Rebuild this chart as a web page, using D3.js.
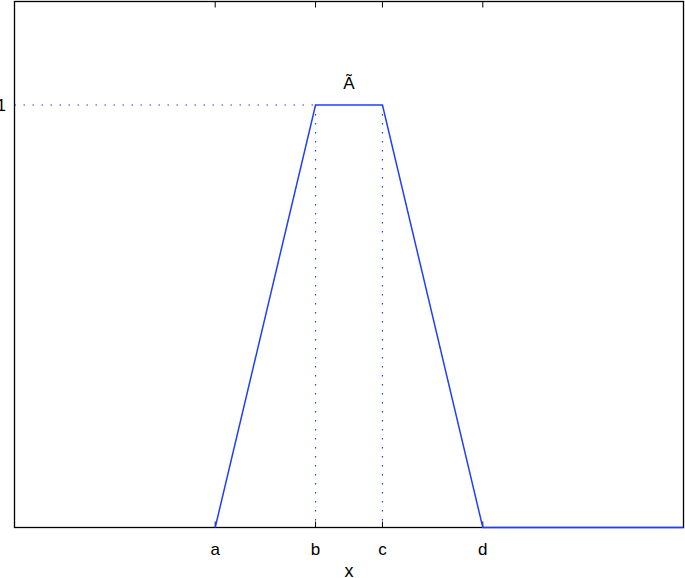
<!DOCTYPE html>
<html>
<head>
<meta charset="utf-8">
<script src="https://cdn.jsdelivr.net/npm/d3@7"></script>
<style>
  body { margin: 0; background: #fff; }
  text { font-family: "Liberation Sans", Arial, sans-serif; }
</style>
</head>
<body>
<svg id="chart"></svg>
<script>
// membership function points (x, mu)
var xs = [3, 4.5, 5.5, 7, 10];
var mus = [0, 1, 1, 0, 0];
var tickVals = [3, 4.5, 5.5, 7];
var tickLabels = ["a", "b", "c", "d"];
var yTickVals = [1];
var yTickLabels = ["1"];
var curveLabel = "\u00C3";
var xTitle = "x";

var screen = {width: 685, height: 578};
var box = {left: 14.5, right: 683.5, top: 1.5, bottom: 527.5};

var svg = d3.select("#chart")
  .attr("width", screen.width)
  .attr("height", screen.height);

var xScale = d3.scaleLinear().domain([0, 10]).range([box.left, box.right]);
var yScale = d3.scaleLinear().domain([0, 1.245]).range([box.bottom, box.top]);

var blue = "#1f3fff";

// dotted guide lines
svg.append("line")
  .attr("x1", xScale(0)).attr("x2", xScale(xs[1]))
  .attr("y1", yScale(1)).attr("y2", yScale(1))
  .attr("stroke", blue).attr("stroke-width", 1.2)
  .attr("stroke-dasharray", "1.5,7.5");

[xs[1], xs[2]].forEach(function(v) {
  svg.append("line")
    .attr("x1", xScale(v)).attr("x2", xScale(v))
    .attr("y1", yScale(1)).attr("y2", yScale(0))
    .attr("stroke", blue).attr("stroke-width", 1.2)
    .attr("stroke-dasharray", "1.5,7.5");
});

// axes box
svg.append("rect")
  .attr("x", box.left).attr("y", box.top)
  .attr("width", box.right - box.left).attr("height", box.bottom - box.top)
  .attr("fill", "none").attr("stroke", "#000").attr("stroke-width", 1.3);

// ticks top and bottom (inward)
tickVals.forEach(function(v, i) {
  svg.append("line")
    .attr("x1", xScale(v)).attr("x2", xScale(v))
    .attr("y1", box.bottom).attr("y2", box.bottom - 6)
    .attr("stroke", "#000");
  svg.append("line")
    .attr("x1", xScale(v)).attr("x2", xScale(v))
    .attr("y1", box.top).attr("y2", box.top + 6)
    .attr("stroke", "#000");
  svg.append("text")
    .attr("x", xScale(v)).attr("y", 555)
    .attr("text-anchor", "middle")
    .attr("font-size", 17)
    .text(tickLabels[i]);
});

yTickVals.forEach(function(v, i) {
  svg.append("text")
    .attr("x", 6).attr("y", yScale(v) + 6)
    .attr("text-anchor", "end")
    .attr("font-size", 17)
    .text(yTickLabels[i]);
});

// membership curve
var pts = xs.map(function(x, i) { return [x, mus[i]]; });
var line = d3.line()
  .x(function(d) { return xScale(d[0]); })
  .y(function(d) { return yScale(d[1]); });

svg.append("path")
  .datum(pts)
  .attr("d", line)
  .attr("fill", "none")
  .attr("stroke", blue)
  .attr("stroke-width", 1.5);

svg.append("text")
  .attr("x", xScale((xs[1] + xs[2]) / 2)).attr("y", 89)
  .attr("text-anchor", "middle")
  .attr("font-size", 17)
  .text(curveLabel);

svg.append("text")
  .attr("x", xScale(5)).attr("y", 577)
  .attr("text-anchor", "middle")
  .attr("font-size", 18)
  .text(xTitle);
</script>
</body>
</html>
